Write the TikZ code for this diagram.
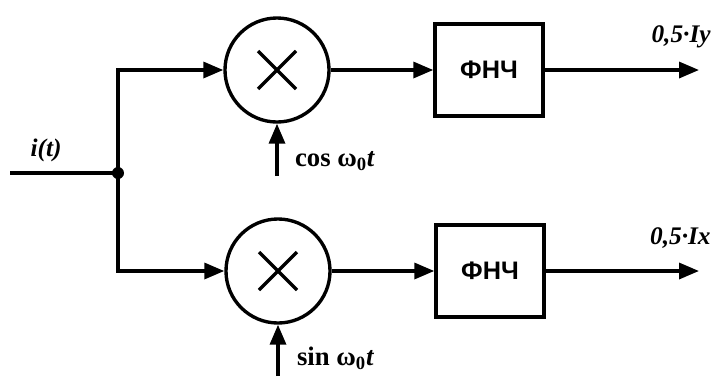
\documentclass[tikz,border=0pt]{standalone}
\usepackage{fontspec}
\setmainfont{Liberation Serif}
\newfontfamily\boxfont{Liberation Sans}
\usetikzlibrary{arrows.meta, positioning}

\begin{document}
\begin{tikzpicture}[x=0.025cm, y=-0.025cm, line width=2.4pt,
  mult/.style={draw, circle, minimum size=2.6cm, inner sep=0pt},
  filter/.style={draw, minimum width=2.7cm, minimum height=2.3cm,
    font=\boxfont\bfseries\fontsize{18}{18}\selectfont},
  sig/.style={-{Triangle[length=0.5cm, width=0.4cm]}},
  lbl/.style={font=\bfseries\itshape\fontsize{18}{18}\selectfont},
  ref/.style={font=\bfseries\fontsize{19}{19}\selectfont, anchor=west, inner sep=1pt}]
  \useasboundingbox (0,0) rectangle (721,376);

  \coordinate (in) at (10,173);
  \coordinate (j) at (118,173);
  % multipliers and filters
  \node[mult] (m1) at (277,70) {};
  \node[mult] (m2) at (278,271) {};
  \node[filter] (f1) at (489,70) {ФНЧ};
  \node[filter] (f2) at (490,271) {ФНЧ};
  \coordinate (o1) at (699,70);
  \coordinate (o2) at (699,271);
  \coordinate (c1) at (277,176);
  \coordinate (s1) at (278,376);

  \foreach \m in {m1, m2} {
    \draw ([shift={(-19,-19)}]\m.center) -- ([shift={(19,19)}]\m.center);
    \draw ([shift={(-19,19)}]\m.center) -- ([shift={(19,-19)}]\m.center);
  }

  \draw (in) -- (j);
  \draw[sig] (j) |- (m1);
  \draw[sig] (j) |- (m2);
  \fill (j) circle (6);
  \draw[sig] (m1) -- (f1);
  \draw[sig] (m2) -- (f2);
  \draw[sig] (f1) -- (o1);
  \draw[sig] (f2) -- (o2);
  \draw[sig] (c1) -- (m1);
  \draw[sig] (s1) -- (m2);

  \node[lbl] (lin) at (46,150) {i(t)};
  \node[lbl, anchor=east] (ly) at (717,37) {0,5·Iy};
  \node[lbl, anchor=east] (lx) at (717,238) {0,5·Ix};
  \node[ref] (lc) at (292,161) {cos ω\textsubscript{0}\textit{t}};
  \node[ref] (ls) at (294,358) {sin ω\textsubscript{0}\textit{t}};
\end{tikzpicture}
\end{document}
